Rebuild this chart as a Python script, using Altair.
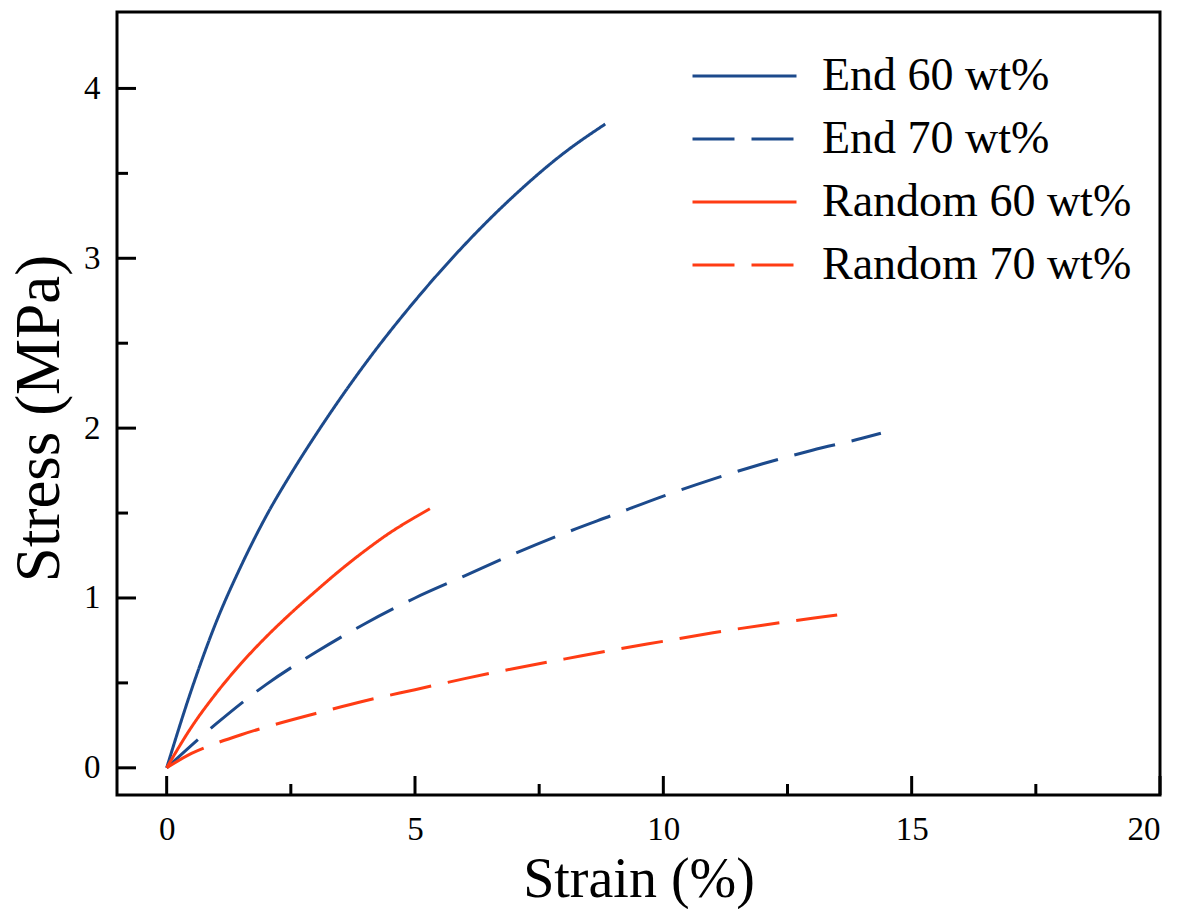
import altair as alt
import pandas as pd

series_names = ["End 60 wt%", "End 70 wt%", "Random 60 wt%", "Random 70 wt%"]

end60_strain = [0, 0.5, 1, 1.5, 2, 2.5, 3, 4, 5, 6, 7, 8, 8.83]
end60_stress = [0, 0.46, 0.86, 1.19, 1.48, 1.73, 1.96, 2.38, 2.75, 3.08, 3.37, 3.62, 3.79]

end70_strain = [0, 1, 2, 3, 4, 5, 6, 7, 8, 9, 10, 11, 12, 13, 14, 14.38]
end70_stress = [0, 0.26, 0.49, 0.68, 0.85, 1.00, 1.13, 1.26, 1.38, 1.49, 1.60, 1.70, 1.79, 1.87, 1.94, 1.97]

rand60_strain = [0, 0.5, 1, 1.5, 2, 2.5, 3, 3.5, 4, 4.5, 5, 5.3]
rand60_stress = [0, 0.24, 0.44, 0.615, 0.77, 0.91, 1.04, 1.165, 1.28, 1.385, 1.475, 1.525]

rand70_strain = [0, 0.5, 1, 1.5, 2, 3, 4, 5, 6, 7, 8, 9, 10, 11, 12, 13, 13.5]
rand70_stress = [0, 0.085, 0.145, 0.195, 0.24, 0.32, 0.395, 0.46, 0.525, 0.585, 0.64, 0.695, 0.745, 0.795, 0.84, 0.88, 0.90]

series_colors = ["#1c4a8c", "#1c4a8c", "#ff3c14", "#ff3c14"]
series_dashes = [[1, 0], [42, 17], [1, 0], [42, 17]]

x_major = [0, 5, 10, 15, 20]
x_minor = [2.5, 7.5, 12.5, 17.5]
y_major = [0, 1, 2, 3, 4]
y_minor = [0.5, 1.5, 2.5, 3.5]

FONT = "Liberation Serif"
W, H = 1043, 783

rows = []
for name, xs, ys in [
    (series_names[0], end60_strain, end60_stress),
    (series_names[1], end70_strain, end70_stress),
    (series_names[2], rand60_strain, rand60_stress),
    (series_names[3], rand70_strain, rand70_stress),
]:
    for xv, yv in zip(xs, ys):
        rows.append({"series": name, "strain": xv, "stress": yv})
df = pd.DataFrame(rows)

xscale = alt.Scale(domain=[-1, 20], nice=False, zero=False)
yscale = alt.Scale(domain=[-0.16, 4.45], nice=False, zero=False)

x_axis = alt.Axis(
    values=x_major, format="d", tickSize=0, domain=False, grid=False,
    labelFont=FONT, labelFontSize=33, labelColor="black", labelPadding=18,
    title="Strain (%)", titleFont=FONT, titleFontSize=56, titleFontWeight="normal",
    titleColor="black", titleBaseline="alphabetic", titleY=101)
y_axis = alt.Axis(
    values=y_major, format="d", tickSize=0, domain=False, grid=False,
    labelFont=FONT, labelFontSize=33, labelColor="black", labelPadding=17,
    title="Stress (MPa)", titleFont=FONT, titleFontSize=63, titleFontWeight="normal",
    titleColor="black", titleBaseline="alphabetic", titleAngle=-90,
    titleX=-59, titleY=406, titleAlign="center")

legend = alt.Legend(
    title=None, orient="none", legendX=574, legendY=41, padding=0,
    symbolType="stroke", symbolSize=10816, symbolStrokeWidth=3,
    clipHeight=46, rowPadding=17, labelOffset=24,
    labelFont=FONT, labelFontSize=46, labelColor="black", labelLimit=400,
)

lines = alt.Chart(df).mark_line(strokeWidth=3, interpolate="monotone").encode(
    x=alt.X("strain:Q", scale=xscale, axis=x_axis),
    y=alt.Y("stress:Q", scale=yscale, axis=y_axis),
    color=alt.Color("series:N", scale=alt.Scale(domain=series_names, range=series_colors), legend=legend),
    strokeDash=alt.StrokeDash("series:N", scale=alt.Scale(domain=series_names, range=series_dashes), legend=legend),
    detail="series:N",
)

xmaj = alt.Chart(pd.DataFrame({"strain": x_major})).mark_rule(color="black", strokeWidth=3).encode(
    x=alt.X("strain:Q", scale=xscale, axis=x_axis), y=alt.value(H), y2=alt.value(H - 19))
xmin = alt.Chart(pd.DataFrame({"strain": x_minor})).mark_rule(color="black", strokeWidth=3).encode(
    x=alt.X("strain:Q", scale=xscale, axis=x_axis), y=alt.value(H), y2=alt.value(H - 11))
ymaj = alt.Chart(pd.DataFrame({"stress": y_major})).mark_rule(color="black", strokeWidth=3).encode(
    y=alt.Y("stress:Q", scale=yscale, axis=y_axis), x=alt.value(0), x2=alt.value(19))
ymin = alt.Chart(pd.DataFrame({"stress": y_minor})).mark_rule(color="black", strokeWidth=3).encode(
    y=alt.Y("stress:Q", scale=yscale, axis=y_axis), x=alt.value(0), x2=alt.value(11))

chart = alt.layer(lines, xmaj, xmin, ymaj, ymin).properties(
    width=W, height=H,
    autosize=alt.AutoSizeParams(type="none"),
    padding={"left": 117, "top": 12, "right": 22, "bottom": 114},
    background="white",
).configure_view(stroke="black", strokeWidth=3)

chart.save("out.html", embed_options={"renderer": "svg", "actions": False})
